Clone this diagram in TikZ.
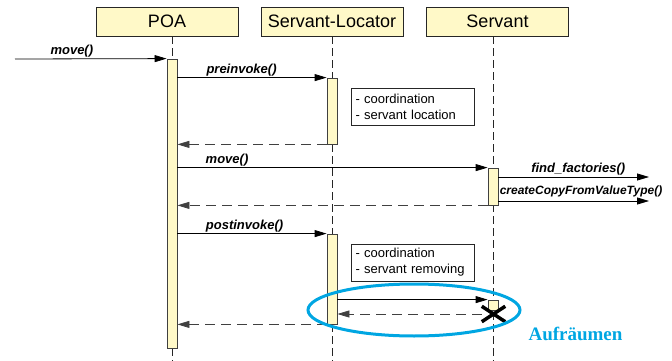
\documentclass[tikz,border=0pt]{standalone}
\usepackage{fontspec}
\setmainfont{Liberation Sans}
\newfontfamily\markfont{Liberation Serif}
\usetikzlibrary{arrows.meta,calc,shapes.geometric,shapes.misc}
\definecolor{umlfill}{RGB}{255,249,200}
\definecolor{markblue}{RGB}{0,166,226}
\tikzset{head/.style={draw=black!85,fill=umlfill,minimum width=142pt,minimum height=29pt,inner sep=0pt,font=\fontsize{18}{20}\selectfont},
  act/.style={draw=black!75,fill=umlfill,minimum width=10pt,inner sep=0pt},
  life/.style={draw=black!85,dash pattern=on 8pt off 4pt},
  msg/.style={-{Triangle[length=12pt,width=7pt]}},
  ret/.style={msg,draw=black!75,dash pattern=on 10pt off 6pt},
  lbl/.style={font=\fontsize{13}{15}\selectfont\bfseries\itshape,inner sep=1pt},
  note/.style={draw=black!85,align=left,text width=114pt,inner xsep=4.5pt,minimum height=37pt,font=\fontsize{13}{16}\selectfont}}

\begin{document}
\begin{tikzpicture}[x=1pt,y=-1pt,line width=0.8pt]
          \useasboundingbox (0,0) rectangle (672,361);

          % heads + lifelines
          \node (poa) [head] at (167,21.5) {POA};
          \node (loc) [head] at (332,21.5) {Servant-Locator};
          \node (srv) [head] at (497.5,21.5) {Servant};
          \coordinate (poa-end) at (172,361);
          \coordinate (loc-end) at (332,361);
          \coordinate (srv-end) at (493,361);
          \foreach \h in {poa,loc,srv}
          {\draw[life] (\h.south -| \h-end)--(\h-end);}

          % activations
          \node (actP) [act,minimum height=289pt] at (172,203.5) {};
          \node (actL1) [act,minimum height=66pt] at (332,111) {};
          \node (actL2) [act,minimum height=90pt] at (332,279) {};
          \node (actS1) [act,minimum height=37pt] at (493,186.5) {};
          \node (actS2) [act,minimum height=10pt] at (493,305) {};

          % notes
          \node (n1) [note] at (412.5,106.5) {- coordination\\- servant location};
          \node (n2) [note] at (412.5,262.5) {- coordination\\- servant removing};

          % calls
          \coordinate (start) at (15,59);
          \draw[msg] (start)--node[lbl,above,pos=0.375]{move()} (actP.north west);
          \draw[msg] (actP.east |- actL1.north)--node[lbl,above,pos=0.43]{preinvoke()} (actL1.north west);
          \draw[ret] (actL1.south west)--(actP.east |- actL1.south);
          \draw[msg] (actP.east |- actS1.north)--node[lbl,above,pos=0.16]{move()} (actS1.north west);

          \coordinate (ff) at (649,177);
          \coordinate (cc) at (649,201);
          \draw[msg] (actS1.east |- ff)--node[lbl,above,pos=0.53]{find\_factories()} (ff);
          \draw[msg] (actS1.east |- cc)--node[lbl,above right,pos=0,yshift=3pt,font=\fontsize{12}{14}\selectfont\bfseries\itshape]{createCopyFromValueType()} (cc);
          \draw[ret] (actS1.south west)--(actP.east |- actS1.south);

          \draw[msg] (actP.east |- actL2.north)--node[lbl,above,pos=0.45]{postinvoke()} (actL2.north west);
          \draw[msg] (actL2.east |- actS2.north)--(actS2.north west);

          % destroy
          \node (kill) [cross out,draw,line width=3.5pt,minimum width=20pt,minimum height=12pt,inner sep=0pt] at (493.5,314) {};
          \draw[ret] (kill.west)--(actL2.east |- kill);
          \draw[ret] (actL2.south west)--(actP.east |- actL2.south);

          % clean up mark
          \node (clean) [ellipse,draw=markblue,line width=3pt,minimum width=212pt,minimum height=52pt] at (414,310) {};
          \node (cleanlbl) [text=markblue,font=\markfont\bfseries\fontsize{19}{21}\selectfont] at (575.5,334) {Aufräumen};

        \end{tikzpicture}
\end{document}
